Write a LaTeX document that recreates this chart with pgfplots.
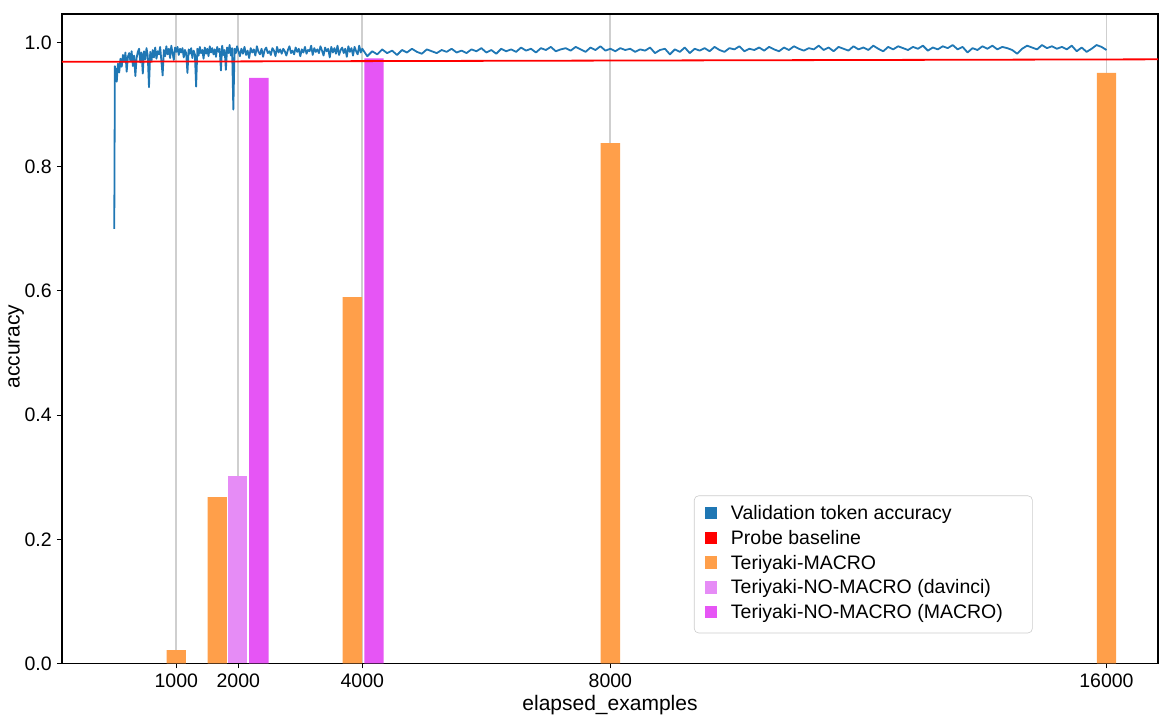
\documentclass[border=0pt]{standalone}
\usepackage{pgfplots}
\pgfplotsset{compat=1.18}
\usepackage{fontspec}
\setmainfont{Liberation Sans}
\definecolor{cblue}{HTML}{1F77B4}
\definecolor{corange}{HTML}{FF9F4A}
\definecolor{clav}{HTML}{E68CF6}
\definecolor{cmag}{HTML}{E655F5}
\definecolor{cgrid}{HTML}{CFCFCF}
\definecolor{clegbd}{HTML}{CCCCCC}
\pgfplotsset{sqleg/.style={legend image code/.code={\fill[sharp corners, draw=none, ##1] (0pt,-3pt) rectangle (8.3pt,5.3pt);}}}
\begin{document}
\begin{tikzpicture}
\useasboundingbox (-41.33pt,-42.33pt) rectangle (738.67pt,442.33pt);
\begin{axis}[
  at={(0pt,0pt)}, anchor=south west,
  scale only axis, width=730.67pt, height=433pt,
  xmin=-843, xmax=16831, ymin=0, ymax=1.046,
  scaled x ticks=false, scaled y ticks=false,
  xtick={1000,2000,4000,8000,16000},
  xticklabels={1000,2000,4000,8000,16000},
  ytick={0,0.2,0.4,0.6,0.8,1.0},
  yticklabels={0.0,0.2,0.4,0.6,0.8,1.0},
  xmajorgrids, ymajorgrids=false,
  grid style={color=cgrid, line width=1.2pt},
  tick align=outside, xtick pos=bottom, ytick pos=left,
  major tick length=3.33pt,
  tick style={black, line width=0.7pt},
  axis line style={black, line width=0.7pt},
  ticklabel style={font=\fontsize{13}{15}\selectfont},
  xlabel={elapsed\_examples}, ylabel={accuracy},
  xlabel style={at={(axis description cs:0.5,-0.0635)}, anchor=center, font=\fontsize{14}{16}\selectfont},
  ylabel style={at={(axis description cs:-0.0418,0.488)}, anchor=center, font=\fontsize{14}{16}\selectfont},
  legend style={at={(0.8857,0.0465)}, anchor=south east, draw=clegbd, rounded corners=3pt, fill=white,
    font=\fontsize{13}{15}\selectfont, inner xsep=7.2pt, inner ysep=4.5pt, column sep=6.5pt,
    nodes={inner sep=2pt, inner xsep=2.5pt, text height=9.5pt, text depth=3pt}},
  legend cell align=left,
]
\addlegendimage{sqleg, fill=cblue}
\addlegendentry{Validation token accuracy}
\addlegendimage{sqleg, fill=red}
\addlegendentry{Probe baseline}
\addlegendimage{sqleg, fill=corange}
\addlegendentry{Teriyaki-MACRO}
\addlegendimage{sqleg, fill=clav}
\addlegendentry{Teriyaki-NO-MACRO (davinci)}
\addlegendimage{sqleg, fill=cmag}
\addlegendentry{Teriyaki-NO-MACRO (MACRO)\hspace*{10pt}}

\addplot[cblue, line width=1.2pt, line join=round, forget plot] coordinates {
(0,0.700) (10,0.962) (20,0.945) (30,0.958) (40,0.937) (60,0.966) (80,0.952) (100,0.974) (120,0.961) (140,0.980)
(160,0.969) (180,0.984) (200,0.953) (220,0.977) (240,0.983) (260,0.970) (280,0.986) (300,0.962) (320,0.979) (340,0.946)
(360,0.975) (380,0.985) (400,0.990) (420,0.968) (440,0.984) (460,0.950) (480,0.986) (500,0.973) (520,0.991) (540,0.979)
(560,0.928) (580,0.985) (600,0.970) (620,0.988) (640,0.976) (660,0.992) (680,0.974) (700,0.986) (720,0.981) (740,0.993)
(760,0.970) (780,0.947) (800,0.988) (820,0.978) (840,0.994) (860,0.981) (880,0.990) (900,0.975) (920,0.995) (940,0.983)
(960,0.972) (980,0.992) (1000,0.985) (1020,0.993) (1040,0.980) (1060,0.990) (1080,0.984) (1100,0.991) (1120,0.976) (1140,0.988)
(1160,0.983) (1180,0.951) (1200,0.989) (1220,0.982) (1240,0.991) (1260,0.975) (1280,0.987) (1300,0.981) (1320,0.929) (1340,0.990)
(1360,0.979) (1380,0.993) (1400,0.983) (1420,0.988) (1440,0.974) (1460,0.992) (1480,0.982) (1500,0.990) (1520,0.978) (1540,0.994)
(1560,0.984) (1580,0.991) (1600,0.981) (1620,0.989) (1640,0.977) (1660,0.993) (1680,0.985) (1700,0.990) (1720,0.955) (1740,0.995)
(1760,0.980) (1780,0.988) (1800,0.956) (1820,0.992) (1840,0.983) (1860,0.996) (1880,0.979) (1900,0.991) (1920,0.892) (1940,0.990)
(1960,0.983) (1980,0.994) (2000,0.987)
(2025,0.978) (2050,0.990) (2075,0.982) (2100,0.993) (2125,0.980) (2150,0.987) (2175,0.975) (2200,0.991) (2225,0.984) (2250,0.989)
(2275,0.979) (2300,0.994) (2325,0.985) (2350,0.981) (2375,0.990) (2400,0.977) (2425,0.988) (2450,0.992) (2475,0.983) (2500,0.986)
(2525,0.980) (2550,0.991) (2575,0.987) (2600,0.978) (2625,0.993) (2650,0.984) (2675,0.989) (2700,0.982) (2725,0.990) (2750,0.986)
(2775,0.979) (2800,0.988) (2825,0.994) (2850,0.983) (2875,0.987) (2900,0.981) (2925,0.992) (2950,0.985) (2975,0.990) (3000,0.978)
(3025,0.989) (3050,0.984) (3075,0.993) (3100,0.982) (3125,0.988) (3150,0.986) (3175,0.995) (3200,0.980) (3225,0.991) (3250,0.985)
(3275,0.989) (3300,0.983) (3325,0.994) (3350,0.987) (3375,0.979) (3400,0.992) (3425,0.986) (3450,0.990) (3475,0.976) (3500,0.993)
(3525,0.984) (3550,0.991) (3575,0.982) (3600,0.995) (3625,0.980) (3650,0.988) (3675,0.992) (3700,0.983) (3725,0.990) (3750,0.977)
(3775,0.994) (3800,0.985) (3825,0.991) (3850,0.979) (3875,0.993) (3900,0.986) (3925,0.981) (3950,0.995) (3975,0.984) (4000,0.990)
(4080,0.978) (4160,0.986) (4240,0.981) (4320,0.989) (4400,0.983) (4480,0.987) (4560,0.980) (4640,0.988) (4720,0.984) (4800,0.990)
(4880,0.985) (4960,0.982) (5040,0.989) (5120,0.986) (5200,0.983) (5280,0.988) (5360,0.985) (5440,0.990) (5520,0.984) (5600,0.987)
(5680,0.983) (5760,0.989) (5840,0.986) (5920,0.991) (6000,0.984) (6080,0.988) (6160,0.982) (6240,0.990) (6320,0.986) (6400,0.989)
(6480,0.985) (6560,0.992) (6640,0.987) (6720,0.990) (6800,0.984) (6880,0.991) (6960,0.988) (7040,0.993) (7120,0.986) (7200,0.989)
(7280,0.991) (7360,0.987) (7440,0.993) (7520,0.989) (7600,0.985) (7680,0.992) (7760,0.988) (7840,0.994) (7920,0.987) (8000,0.990)
(8080,0.986) (8160,0.991) (8240,0.988) (8320,0.990) (8400,0.985) (8480,0.989) (8560,0.987) (8640,0.992) (8720,0.983) (8800,0.988)
(8880,0.990) (8960,0.981) (9040,0.989) (9120,0.985) (9200,0.992) (9280,0.983) (9360,0.990) (9440,0.987) (9520,0.991) (9600,0.986)
(9680,0.993) (9760,0.988) (9840,0.985) (9920,0.991) (10000,0.989) (10080,0.994) (10160,0.986) (10240,0.990) (10320,0.988) (10400,0.992)
(10480,0.987) (10560,0.993) (10640,0.989) (10720,0.986) (10800,0.992) (10880,0.988) (10960,0.994) (11040,0.990) (11120,0.987) (11200,0.991)
(11280,0.989) (11360,0.995) (11440,0.988) (11520,0.992) (11600,0.986) (11680,0.993) (11760,0.990) (11840,0.987) (11920,0.994) (12000,0.989)
(12080,0.992) (12160,0.988) (12240,0.995) (12320,0.990) (12400,0.986) (12480,0.993) (12560,0.989) (12640,0.994) (12720,0.991) (12800,0.988)
(12880,0.993) (12960,0.990) (13040,0.995) (13120,0.987) (13200,0.992) (13280,0.989) (13360,0.994) (13440,0.991) (13520,0.996) (13600,0.989)
(13680,0.993) (13760,0.984) (13840,0.991) (13920,0.988) (14000,0.994) (14080,0.990) (14160,0.995) (14240,0.989) (14320,0.993) (14400,0.991)
(14480,0.988) (14560,0.982) (14640,0.990) (14720,0.995) (14800,0.992) (14880,0.989) (14960,0.996) (15040,0.991) (15120,0.994) (15200,0.990)
(15280,0.993) (15360,0.989) (15440,0.995) (15520,0.986) (15600,0.992) (15680,0.985) (15760,0.990) (15840,0.996) (15920,0.993) (16000,0.988)
};

\addplot[ybar, bar shift=0pt, bar width=313, fill=corange, draw=none, forget plot] coordinates {
(1000,0.0217) (1660,0.268) (3840,0.590) (8000,0.838) (16000,0.951)};
\addplot[ybar, bar shift=0pt, bar width=313, fill=clav, draw=none, forget plot] coordinates {
(1990,0.302)};
\addplot[ybar, bar shift=0pt, bar width=313, fill=cmag, draw=none, forget plot] coordinates {
(2333,0.943) (4188,0.9746)};

\addplot[red, line width=1.2pt, forget plot] coordinates {(-843,0.969) (16831,0.973)};
\end{axis}
\end{tikzpicture}
\end{document}
